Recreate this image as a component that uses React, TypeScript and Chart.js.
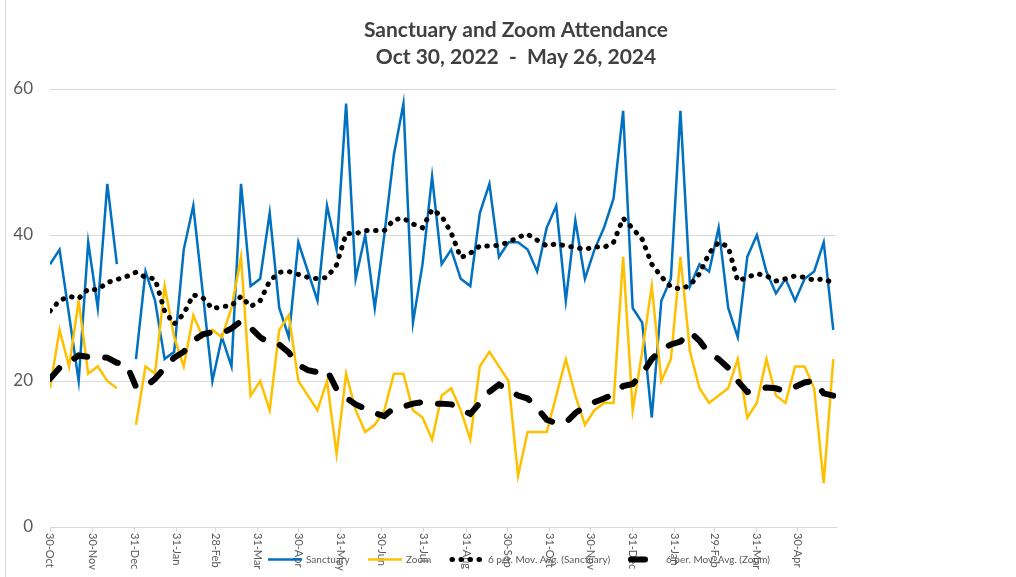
import React, { useEffect, useRef } from "react";
import { Chart, registerables } from "chart.js";

Chart.register(...registerables);

const START_DATE = "2022-10-30";
const AXIS_END_DATE = "2024-05-28";

const titleLines = ["Sanctuary and Zoom Attendance", "Oct 30, 2022  -  May 26, 2024"];
const seriesNames = ["Sanctuary", "Zoom", "6 per. Mov. Avg. (Sanctuary)", "6 per. Mov. Avg. (Zoom)"];

const sanctuary: (number | null)[] = [
  36, 38, 29, 20, 39, 30, 47, 36, null, 23,
  35, 31, 23, 24, 38, 44, 32, 20, 26, 22,
  47, 33, 34, 43, 30, 26, 39, 35, 31, 44,
  38, 58, 34, 40, 30, 40, 51, 58, 28, 36,
  48, 36, 38, 34, 33, 43, 47, 37, 39, 39,
  38, 35, 41, 44, 31, 42, 34, 38, 41, 45,
  57, 30, 28, 15, 31, 34, 57, 33, 36, 35,
  41, 30, 26, 37, 40, 35, 32, 34, 31, 34,
  35, 39, 27,
];

const zoom: (number | null)[] = [
  19, 27, 22, 31, 21, 22, 20, 19, null, 14,
  22, 21, 33, 26, 22, 29, 26, 27, 26, 30,
  37, 18, 20, 16, 27, 29, 20, 18, 16, 20,
  10, 21, 16, 13, 14, 16, 21, 21, 16, 15,
  12, 18, 19, 16, 12, 22, 24, 22, 20, 7,
  13, 13, 13, 18, 23, 18, 14, 16, 17, 17,
  37, 16, 24, 33, 20, 23, 37, 24, 19, 17,
  18, 19, 23, 15, 17, 23, 18, 17, 22, 22,
  19, 6, 23,
];

const sanctuaryMovAvg: number[] = [
  29.6, 31.0, 31.6, 31.3, 32.6, 32.5, 33.5, 33.9, 34.3, 34.9,
  34.2, 34.0, 29.6, 27.8, 29.2, 31.8, 31.4, 29.9, 30.2, 30.3,
  31.6, 30.2, 31.0, 33.7, 34.9, 35.0, 34.6, 34.2, 34.0, 34.2,
  35.9, 40.2, 40.2, 40.6, 40.6, 40.6, 42.1, 42.3, 41.5, 41.0,
  43.5, 42.6, 40.3, 36.9, 37.5, 38.5, 38.5, 38.6, 39.0, 39.7,
  40.1, 39.3, 38.5, 38.8, 38.5, 38.3, 38.0, 38.4, 38.3, 39.0,
  42.3, 40.9, 39.4, 36.0, 34.3, 32.9, 32.6, 33.1, 34.7, 37.5,
  39.0, 38.4, 33.7, 34.2, 34.7, 34.4, 33.7, 34.0, 34.4, 34.2,
  33.8, 34.0, 33.4,
];

const zoomMovAvg: number[] = [
  20.3, 21.8, 22.6, 23.5, 23.3, 23.3, 23.2, 22.5, 22.3, 19.2,
  19.2, 20.3, 21.8, 23.2, 24.0, 25.5, 26.4, 26.7, 26.5, 27.2,
  28.2, 27.3, 26.0, 25.2, 25.0, 23.9, 22.2, 21.5, 21.2, 21.5,
  18.9, 17.7, 16.8, 16.2, 15.6, 15.2, 16.3, 16.5, 16.9, 17.1,
  16.9, 16.9, 16.8, 16.1, 15.5, 17.0, 18.5, 19.5, 18.8, 18.0,
  17.6, 16.3, 14.7, 14.2, 14.3, 15.6, 16.5, 17.1, 17.6, 18.2,
  19.3, 19.6, 21.0, 23.0, 24.3, 25.0, 25.4, 26.7, 25.5, 23.8,
  23.0, 21.8, 20.0, 18.5, 18.8, 19.1, 19.0, 18.6, 19.2, 19.8,
  20.0, 18.3, 18.0,
];

const tickDates = [
  "2022-10-30", "2022-11-30", "2022-12-31", "2023-01-31", "2023-02-28", "2023-03-31",
  "2023-04-30", "2023-05-31", "2023-06-30", "2023-07-31", "2023-08-31", "2023-09-30",
  "2023-10-31", "2023-11-30", "2023-12-31", "2024-01-31", "2024-02-29", "2024-03-31",
  "2024-04-30",
];
const tickLabels = [
  "30-Oct", "30-Nov", "31-Dec", "31-Jan", "28-Feb", "31-Mar",
  "30-Apr", "31-May", "30-Jun", "31-Jul", "31-Aug", "30-Sep",
  "31-Oct", "30-Nov", "31-Dec", "31-Jan", "29-Feb", "31-Mar",
  "30-Apr",
];
const yTicks = [0, 20, 40, 60];

const DAY_MS = 86400000;
const dayOffset = (iso: string) => Math.round((Date.parse(iso) - Date.parse(START_DATE)) / DAY_MS);
const weekDay = (i: number) => i * 7;
const toPoints = (arr: (number | null)[]) => arr.map((v, i) => ({ x: weekDay(i), y: v }));

const TEXT = "#595959";
const GRID = "#d9d9d9";
const FONT = "Lato, 'Open Sans', sans-serif";

const legendStyles = [
  { color: "#0070C0", width: 2.5, dash: [] as number[], x: 268, len: 34 },
  { color: "#FFC000", width: 2.5, dash: [] as number[], x: 368, len: 34 },
  { color: "#000000", width: 5, dash: [0.5, 8.5], x: 452, len: 30 },
  { color: "#000000", width: 6, dash: [14, 18], x: 631, len: 31 },
];
const legendTextX = [306, 406, 488, 666];

const decorPlugin = {
  id: "decor",
  afterDraw(chart: any) {
    const ctx: CanvasRenderingContext2D = chart.ctx;
    const xs = chart.scales.x;
    const area = chart.chartArea;
    ctx.save();
    // chart frame edge
    ctx.strokeStyle = GRID;
    ctx.lineWidth = 1;
    ctx.beginPath();
    ctx.moveTo(5.5, 0);
    ctx.lineTo(5.5, chart.height);
    ctx.stroke();

    // title
    ctx.fillStyle = "#404040";
    ctx.font = `bold 21px ${FONT}`;
    ctx.textAlign = "center";
    ctx.textBaseline = "middle";
    ctx.fillText(titleLines[0], 516, 30);
    ctx.fillText(titleLines[1], 516, 57);

    // rotated x labels
    ctx.font = `11px ${FONT}`;
    ctx.fillStyle = TEXT;
    ctx.textAlign = "left";
    ctx.textBaseline = "middle";
    tickDates.forEach((d, i) => {
      const px = xs.getPixelForValue(dayOffset(d));
      ctx.save();
      ctx.translate(px, area.bottom + 6);
      ctx.rotate(Math.PI / 2);
      ctx.fillText(tickLabels[i], 0, 0);
      ctx.restore();
    });

    // legend
    ctx.font = `10px ${FONT}`;
    const ly = 559.5;
    seriesNames.forEach((name, i) => {
      const st = legendStyles[i];
      ctx.save();
      ctx.strokeStyle = st.color;
      ctx.lineWidth = st.width;
      ctx.lineCap = st.dash.length ? "round" : "butt";
      ctx.setLineDash(st.dash);
      ctx.beginPath();
      ctx.moveTo(st.x, ly);
      ctx.lineTo(st.x + st.len, ly);
      ctx.stroke();
      ctx.restore();
      ctx.fillStyle = TEXT;
      ctx.textAlign = "left";
      ctx.textBaseline = "middle";
      ctx.fillText(name, legendTextX[i], ly);
    });
    ctx.restore();
  },
};

export default function App() {
  const ref = useRef<HTMLCanvasElement | null>(null);
  useEffect(() => {
    document.body.style.margin = "0";
    const canvas = ref.current;
    if (!canvas) return;
    const chart = new Chart(canvas, {
      type: "line",
      data: {
        datasets: [
          {
            label: seriesNames[0],
            data: toPoints(sanctuary),
            borderColor: "#0070C0",
            backgroundColor: "#0070C0",
            borderWidth: 2.5,
            pointRadius: 0,
            tension: 0,
            spanGaps: false,
            order: 3,
          },
          {
            label: seriesNames[1],
            data: toPoints(zoom),
            borderColor: "#FFC000",
            backgroundColor: "#FFC000",
            borderWidth: 2.5,
            pointRadius: 0,
            tension: 0,
            spanGaps: false,
            order: 2,
          },
          {
            label: seriesNames[2],
            data: toPoints(sanctuaryMovAvg),
            borderColor: "#000000",
            borderWidth: 5,
            borderDash: [0.5, 8.5],
            borderCapStyle: "round",
            pointRadius: 0,
            tension: 0,
            order: 1,
          },
          {
            label: seriesNames[3],
            data: toPoints(zoomMovAvg),
            borderColor: "#000000",
            borderWidth: 6,
            borderDash: [14, 18],
            borderCapStyle: "round",
            pointRadius: 0,
            tension: 0,
            order: 0,
          },
        ] as any,
      },
      options: {
        animation: false,
        responsive: false,
        devicePixelRatio: 1,
        layout: { padding: { left: 0, right: 180, top: 89, bottom: 45 } },
        plugins: {
          legend: { display: false },
          title: { display: false },
          tooltip: { enabled: false },
        },
        scales: {
          x: {
            type: "linear",
            min: 0,
            max: dayOffset(AXIS_END_DATE),
            afterBuildTicks: (scale: any) => {
              scale.ticks = tickDates.map((d) => ({ value: dayOffset(d) }));
            },
            grid: {
              display: true,
              drawOnChartArea: false,
              drawTicks: true,
              tickLength: 5,
              color: GRID,
            },
            border: { display: true, color: GRID, width: 1 },
            ticks: { display: false },
          },
          y: {
            type: "linear",
            min: 0,
            max: 60,
            afterBuildTicks: (scale: any) => {
              scale.ticks = yTicks.map((v) => ({ value: v }));
            },
            afterFit: (scale: any) => {
              scale.width = 50;
            },
            grid: { color: GRID, drawTicks: false, lineWidth: 1 },
            border: { display: false },
            ticks: {
              padding: 17,
              color: TEXT,
              font: { family: FONT, size: 17 },
            },
          },
        },
      } as any,
      plugins: [decorPlugin],
    });
    return () => chart.destroy();
  }, []);
  return (
    <div style={{ position: "absolute", left: 0, top: 0, width: 1016, height: 577 }}>
      <canvas ref={ref} width={1016} height={577} />
    </div>
  );
}
